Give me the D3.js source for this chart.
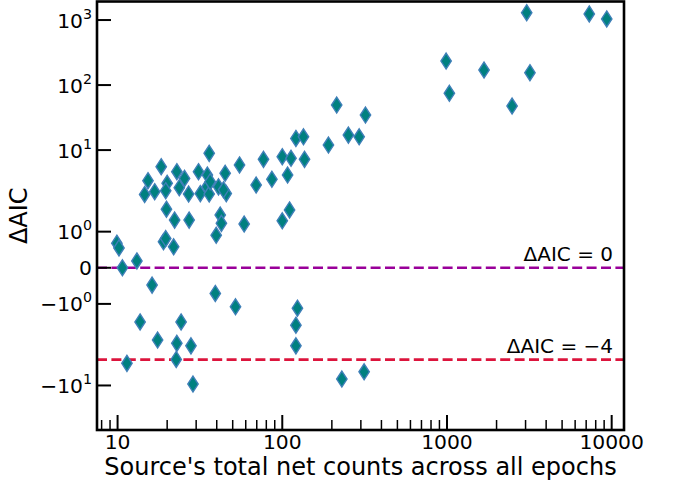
<!DOCTYPE html>
<html>
<head>
<meta charset="utf-8">
<script src="https://cdn.jsdelivr.net/npm/d3@7"></script>
<style>
  body { margin: 0; background: #fff; }
  svg text { font-family: "DejaVu Sans", sans-serif; fill: #000; }
</style>
</head>
<body>
<svg id="chart" width="673" height="485"></svg>
<script>
// ---- data ----
const posCounts = [9.9, 10.2, 13.1, 18.4, 15.3, 14.6, 16.8, 20.0, 19.6, 19.8, 22.2, 27.2, 19.0, 19.6, 21.9,
  22.9, 25.5, 23.7, 27.0, 31.0, 31.8, 34.9, 36.0, 35.1, 36.0, 36.5, 41.0, 45.0, 45.7, 44.0, 42.0, 42.7, 39.7,
  55.0, 58.7, 69.4, 76.9, 86.5, 100, 107.7, 113, 100, 110.7, 121, 134.5, 136.5, 190.7, 214, 252, 293, 320,
  988, 1034, 1679, 3190, 2485, 3048, 7310, 9333, 10.7];
const posDAIC = [0.68, 0.55, 0.19, 5.55, 3.38, 2.08, 2.29, 3.08, 2.37, 1.62, 1.32, 1.32, 0.72, 0.81, 0.58,
  4.65, 3.67, 2.64, 2.11, 4.65, 2.14, 2.72, 8.9, 4.13, 2.11, 3.26, 2.72, 4.39, 2.14, 2.45, 1.46, 1.23, 0.9,
  5.9, 1.21, 2.9, 7.2, 3.55, 7.9, 4.13, 7.47, 1.3, 1.6, 15.1, 16, 7.2, 11.95, 49.3, 17, 16, 34.6,
  234, 74.6, 170, 155, 47.6, 1297, 1239, 1038, 0.0];
const negCounts = [16.2, 39.2, 13.7, 24.3, 17.5, 22.9, 27.9, 11.4, 22.7, 28.7, 52, 123.6, 121, 121, 230, 314];
const negDAIC = [-0.48, -0.71, -1.5, -1.5, -2.0, -2.25, -2.46, -4.57, -3.98, -9.5, -1.08, -1.12, -1.59, -2.46, -7.96, -6.17];

const xTickVals = [10, 100, 1000, 10000];
const xTickLabels = ["10", "100", "1000", "10000"];
const yTickVals = [1000, 100, 10, 1, 0, -1, -10];
const yTickLabels = [["10", "3"], ["10", "2"], ["10", "1"], ["10", "0"], ["0", ""], ["\u221210", "0"], ["\u221210", "1"]];
const refLines = [0, -4];
const refLabels = ["\u0394AIC = 0", "\u0394AIC = \u22124"];
const refColors = ["#990099", "#dc143c"];

// ---- layout ----
const svg = d3.select("#chart");
const L = 97, R = 624, T = 1.5, B = 430;

const x = d3.scaleLog().domain([7.5, 11880]).range([L, R]);

// matplotlib-style symlog (linthresh 2, linscale 1)
const linthresh = 2, linscaleAdj = 1 / (1 - 1 / 10);
function symT(v) {
  const a = Math.abs(v);
  if (a <= linthresh) return v * linscaleAdj;
  return Math.sign(v) * linthresh * (linscaleAdj + Math.log10(a / linthresh));
}
const yLin = d3.scaleLinear().domain([symT(-48.4), symT(1928)]).range([B, T]);
const y = v => yLin(symT(v));

// ---- reference lines ----
refLines.forEach((v, i) => {
  svg.append("line")
    .attr("x1", L).attr("x2", R).attr("y1", y(v)).attr("y2", y(v))
    .attr("stroke", refColors[i]).attr("stroke-width", 2.6)
    .attr("stroke-dasharray", "10,4.4");
  svg.append("text")
    .attr("x", 613).attr("y", y(v) - 7)
    .attr("text-anchor", "end").attr("font-size", 20)
    .text(refLabels[i]);
});

// ---- points ----
const pts = posCounts.map((c, i) => ({ c, d: posDAIC[i] }))
  .concat(negCounts.map((c, i) => ({ c, d: negDAIC[i] })));
svg.append("g").selectAll("path").data(pts).join("path")
  .attr("transform", p => `translate(${x(p.c)},${y(p.d)})`)
  .attr("d", "M0,-8 L5.2,0 L0,8 L-5.2,0 Z")
  .attr("fill", "#008080")
  .attr("stroke", "#3f7fb8").attr("stroke-width", 1.4);

// ---- x axis ticks (inward) ----
const minor = [];
[1, 10, 100, 1000].forEach(d => { for (let k = 2; k <= 9; k++) minor.push(k * d); });
const gx = svg.append("g");
minor.filter(v => v >= 7.5 && v <= 11880 && !xTickVals.includes(v)).forEach(v => {
  gx.append("line").attr("x1", x(v)).attr("x2", x(v)).attr("y1", B).attr("y2", B - 10)
    .attr("stroke", "#000").attr("stroke-width", 1.5);
});
xTickVals.forEach((v, i) => {
  gx.append("line").attr("x1", x(v)).attr("x2", x(v)).attr("y1", B).attr("y2", B - 15)
    .attr("stroke", "#000").attr("stroke-width", 2);
  gx.append("text").attr("x", x(v)).attr("y", B + 19)
    .attr("text-anchor", "middle").attr("font-size", 20.3).text(xTickLabels[i]);
});

// ---- y axis ticks ----
const gy = svg.append("g");
yTickVals.forEach((v, i) => {
  gy.append("line").attr("x1", L).attr("x2", L + 14).attr("y1", y(v)).attr("y2", y(v))
    .attr("stroke", "#000").attr("stroke-width", 2);
  const lab = yTickLabels[i];
  const t = gy.append("text").attr("x", 92).attr("y", y(v) + 7.5)
    .attr("text-anchor", "end").attr("font-size", 20.3);
  t.append("tspan").text(lab[0]);
  if (lab[1]) t.append("tspan").attr("dy", -9).attr("font-size", 14.2).text(lab[1]);
});

// ---- frame ----
svg.append("rect").attr("x", L).attr("y", T).attr("width", R - L).attr("height", B - T)
  .attr("fill", "none").attr("stroke", "#000").attr("stroke-width", 2.6);

// ---- axis labels ----
svg.append("text").attr("x", (L + R) / 2).attr("y", 475)
  .attr("text-anchor", "middle").attr("font-size", 24).text("Source's total net counts across all epochs");
svg.append("text").attr("transform", `translate(27,${(T + B) / 2}) rotate(-90)`)
  .attr("text-anchor", "middle").attr("font-size", 24).text("\u0394AIC");
</script>
</body>
</html>
